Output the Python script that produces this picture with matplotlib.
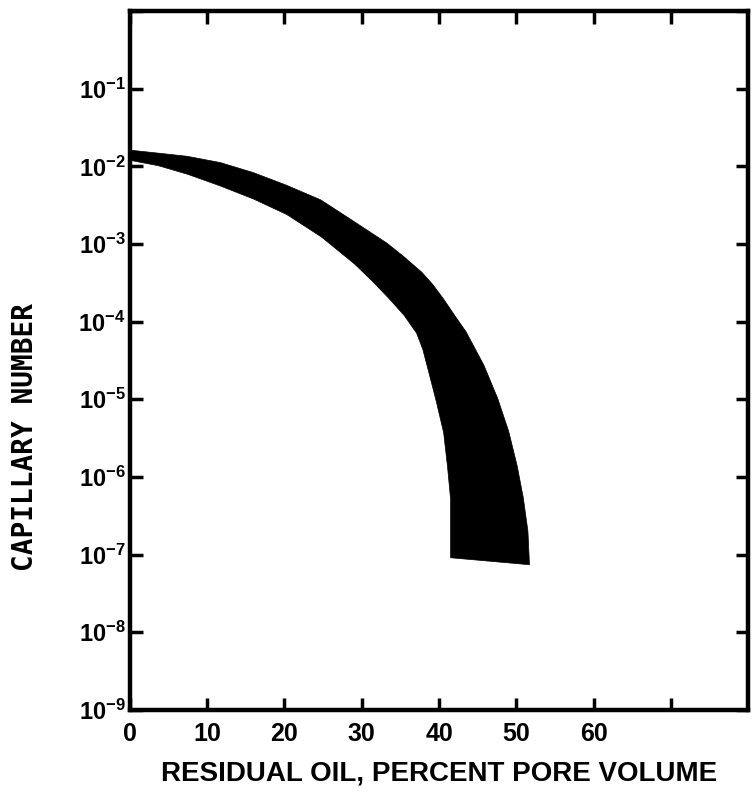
import numpy as np
import matplotlib
matplotlib.use("Agg")
import matplotlib.pyplot as plt
from matplotlib.ticker import FixedLocator, NullLocator

plt.rcParams["font.family"] = ["Liberation Sans", "DejaVu Sans"]
plt.rcParams["mathtext.fontset"] = "custom"
plt.rcParams["mathtext.rm"] = "Liberation Sans:bold"
plt.rcParams["mathtext.bf"] = "Liberation Sans:bold"
plt.rcParams["mathtext.it"] = "Liberation Sans:bold"

# band of residual oil vs capillary number
# outer (right / upper) edge
outer_oil = [0, 3.7, 7.4, 11.7, 16.0, 20.2, 24.7, 29.0, 33.3, 35.5, 37.8,
             39.2, 40.6, 42.1, 43.5, 45.8, 47.6, 49.0, 50.1, 50.9, 51.5, 51.7]
outer_nc = [1.62e-2, 1.48e-2, 1.35e-2, 1.12e-2, 8.3e-3, 5.75e-3, 3.7e-3,
            1.95e-3, 1.02e-3, 6.8e-4, 4.3e-4, 3.0e-4, 1.95e-4, 1.17e-4,
            7.4e-5, 2.75e-5, 1.02e-5, 3.9e-6, 1.4e-6, 5.4e-7, 2.0e-7, 7.4e-8]
# inner (left / lower) edge
inner_oil = [0, 3.7, 7.5, 11.7, 16.0, 20.3, 24.8, 29.1, 31.4, 33.5, 35.5,
             37.1, 37.9, 38.5, 39.6, 40.6, 41.1, 41.5, 41.5]
inner_nc = [1.2e-2, 1.02e-2, 7.9e-3, 5.6e-3, 3.8e-3, 2.4e-3, 1.23e-3,
            5.5e-4, 3.3e-4, 2.0e-4, 1.2e-4, 7.1e-5, 4.4e-5, 2.6e-5, 9.8e-6,
            3.7e-6, 1.35e-6, 5.1e-7, 9.1e-8]

x_ticks = [0, 10, 20, 30, 40, 50, 60, 70]
x_labels = ["0", "10", "20", "30", "40", "50", "60", ""]
y_exps = [-9, -8, -7, -6, -5, -4, -3, -2, -1, 0]
y_labels = [r"$10^{%d}$" % e for e in y_exps[:-1]] + [""]


def main():
    fig = plt.figure(figsize=(7.55, 7.94), dpi=100)
    ax = fig.add_axes([0.172, 0.106, 0.819, 0.880])

    xs = np.concatenate([outer_oil, inner_oil[::-1]])
    ys = np.concatenate([outer_nc, inner_nc[::-1]])
    ax.fill(xs, ys, color="black", linewidth=0.5, edgecolor="black")

    ax.set_yscale("log")
    ax.set_xlim(0, 80)
    ax.set_ylim(1e-9, 1e0)

    ax.xaxis.set_major_locator(FixedLocator(x_ticks))
    ax.set_xticklabels(x_labels)
    ax.yaxis.set_major_locator(FixedLocator([10.0 ** e for e in y_exps]))
    ax.set_yticklabels(y_labels)
    ax.yaxis.set_minor_locator(NullLocator())

    for s in ax.spines.values():
        s.set_linewidth(3.2)
    ax.tick_params(direction="in", length=9, width=2.5, top=True, right=True)
    ax.tick_params(axis="x", labelsize=18, pad=9)
    ax.tick_params(axis="y", labelsize=17, pad=3)
    for t in ax.get_xticklabels():
        t.set_fontweight("bold")

    ax.set_xlabel("RESIDUAL OIL, PERCENT PORE VOLUME", fontsize=20,
                  fontweight="bold", labelpad=10)
    fig.text(25 / 755, 1 - 437 / 794, "CAPILLARY NUMBER", rotation=90,
             ha="center", va="center", fontsize=20, fontweight="bold",
             family=["DejaVu Sans Mono"])

    fig.savefig("out.png", dpi=100)


if __name__ == "__main__":
    main()
